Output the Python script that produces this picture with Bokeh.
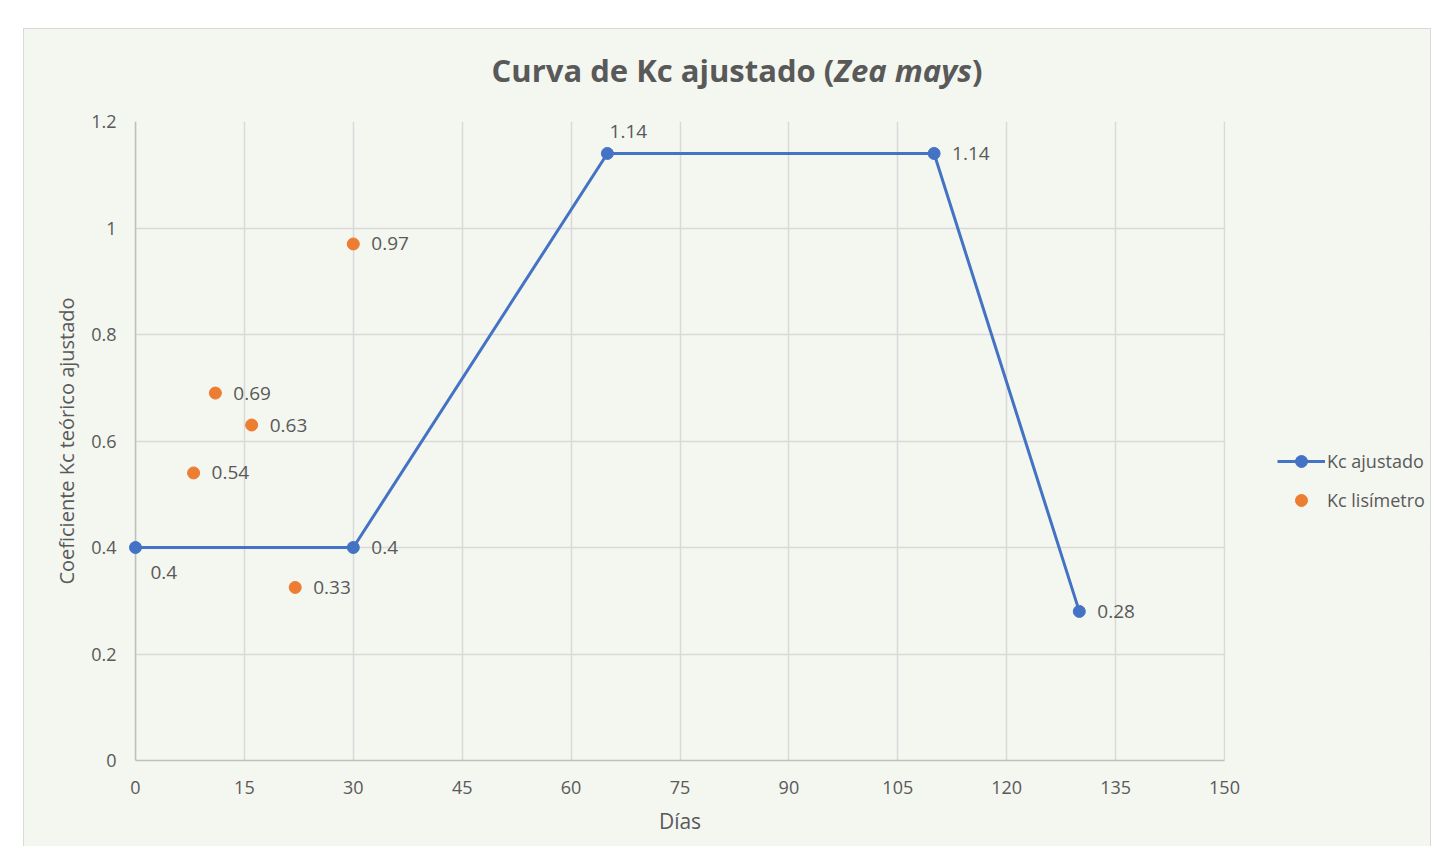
from bokeh.plotting import figure
from bokeh.models import (ColumnDataSource, Legend, LegendItem, FixedTicker, Range1d,
                          Div, Span, BoxAnnotation)
from bokeh.layouts import column
from bokeh.core.properties import value
from bokeh.embed import file_html
from bokeh.resources import INLINE

# ---- data ----
ajust_days = [0, 30, 65, 110, 130]
ajust_kc = [0.4, 0.4, 1.14, 1.14, 0.28]
lis_days = [8, 11, 16, 22, 30]
lis_kc = [0.54, 0.69, 0.63, 0.325, 0.97]
lis_labels = ["0.54", "0.69", "0.63", "0.33", "0.97"]
x_ticks = [0, 15, 30, 45, 60, 75, 90, 105, 120, 135, 150]
y_ticks = [0, 0.2, 0.4, 0.6, 0.8, 1.0, 1.2]
y_tick_labels = ["0", "0.2", "0.4", "0.6", "0.8", "1", "1.2"]
X_MIN, X_MAX = 0, 150

FONT = "Open Sans"
TXT = "#595959"
BLUE = "#4472c4"
ORANGE = "#ed7d31"
BG = "#f4f6f0"
W = 1406

# layout geometry (pixels)
LEFT_BORDER = 102
RIGHT_BORDER = 2
PX_PER_UNIT = 1089 / 150
pad_left_units = 9 / PX_PER_UNIT
frame_w = W - LEFT_BORDER - RIGHT_BORDER
x_start = X_MIN - pad_left_units
x_end = x_start + frame_w / PX_PER_UNIT

title = Div(text="Curva de Kc ajustado (<i>Zea mays</i>)", width=W, height=72, margin=0,
            styles={"text-align": "center", "font-family": FONT, "font-size": "31px",
                    "font-weight": "bold", "color": TXT, "background": BG,
                    "padding-top": "20px", "padding-left": "20px", "box-sizing": "border-box",
                    "line-height": "normal", "white-space": "nowrap"})

xlabel = Div(text="Días", width=W, height=41, margin=0,
             styles={"text-align": "center", "font-family": FONT, "font-size": "21px",
                     "color": TXT, "background": BG, "padding-top": "2px",
                     "padding-right": "94px", "box-sizing": "border-box",
                     "line-height": "normal", "white-space": "nowrap"})

p = figure(width=W, height=704, output_backend="svg", toolbar_location=None,
           x_range=Range1d(x_start, x_end), y_range=Range1d(0, 1.2),
           min_border_left=LEFT_BORDER, min_border_right=RIGHT_BORDER,
           min_border_top=20, min_border_bottom=45,
           background_fill_color=BG, border_fill_color=BG, margin=0)
p.outline_line_color = None

# axes
p.xaxis.ticker = FixedTicker(ticks=x_ticks)
p.yaxis.ticker = FixedTicker(ticks=y_ticks)
p.yaxis.major_label_overrides = {t: l for t, l in zip(y_ticks, y_tick_labels)}
for ax in (p.xaxis[0], p.yaxis[0]):
    ax.axis_line_color = "#bfbfbf"
    ax.axis_line_width = 1.5
    ax.major_tick_line_color = None
    ax.minor_tick_line_color = None
    ax.major_label_text_font = FONT
    ax.major_label_text_font_size = "18px"
    ax.major_label_text_color = TXT
    ax.axis_label_text_font = FONT
    ax.axis_label_text_color = TXT
    ax.axis_label_text_font_style = "normal"
p.xaxis.bounds = (X_MIN, X_MAX)
p.yaxis.axis_line_color = None
p.yaxis.axis_label_text_font_size = "20px"
p.xaxis.major_label_standoff = 14
p.yaxis.major_label_standoff = 4
p.yaxis.axis_label = "Coeficiente Kc teórico ajustado"
p.yaxis.axis_label_standoff = 8

p.xgrid.ticker = FixedTicker(ticks=x_ticks)
p.ygrid.ticker = FixedTicker(ticks=y_ticks)
p.grid.grid_line_color = "#d9d9d9"
p.grid.grid_line_width = 1.5

# hide grid stubs outside [0, 150] and draw the y axis line at x=0
p.add_layout(BoxAnnotation(left=x_start, right=X_MIN, fill_color=BG, fill_alpha=1,
                           line_color=None, level="underlay"))
p.add_layout(BoxAnnotation(left=X_MAX + 0.12, right=x_end, fill_color=BG, fill_alpha=1,
                           line_color=None, level="underlay"))
p.add_layout(Span(location=X_MIN, dimension="height", line_color="#bfbfbf", line_width=1.5,
                  level="underlay"))

# series
src_a = ColumnDataSource(dict(x=ajust_days, y=ajust_kc))
src_l = ColumnDataSource(dict(x=lis_days, y=lis_kc, lab=lis_labels))

ln = p.line("x", "y", source=src_a, line_color=BLUE, line_width=3)
sc_a = p.scatter("x", "y", source=src_a, size=12, fill_color=BLUE, line_color=BLUE)
sc_l = p.scatter("x", "y", source=src_l, size=12, fill_color=ORANGE, line_color=ORANGE)

# data labels
lab_kw = dict(text_font=value(FONT), text_font_size="19px", text_color=TXT)
p.text(x=[ajust_days[0]], y=[ajust_kc[0]], text=[f"{ajust_kc[0]:g}"], x_offset=15, y_offset=25,
       text_align="left", text_baseline="middle", **lab_kw)
for i in (1, 3, 4):
    p.text(x=[ajust_days[i]], y=[ajust_kc[i]], text=[f"{ajust_kc[i]:g}"], x_offset=18, y_offset=0,
           text_align="left", text_baseline="middle", **lab_kw)
p.text(x=[ajust_days[2]], y=[ajust_kc[2]], text=[f"{ajust_kc[2]:g}"], x_offset=21, y_offset=-22,
       text_align="center", text_baseline="middle", **lab_kw)
p.text("x", "y", text="lab", source=src_l, x_offset=18, y_offset=0,
       text_align="left", text_baseline="middle", **lab_kw)

# legend (inside the widened frame, right of x=150)
legend = Legend(items=[LegendItem(label="Kc ajustado", renderers=[ln, sc_a]),
                       LegendItem(label="Kc lisímetro", renderers=[sc_l])],
                location=(1151, 245), glyph_width=48, glyph_height=30,
                label_standoff=2, spacing=9, padding=0, margin=0,
                background_fill_alpha=0, border_line_color=None,
                label_text_font=FONT, label_text_font_size="18px", label_text_color=TXT)
p.add_layout(legend, "center")

page = column(title, p, xlabel, spacing=0, margin=(29, 0, 0, 24),
              styles={"outline": "1.5px solid #d9d9d9", "background": BG})

open("out.html", "w").write(file_html(page, INLINE))
